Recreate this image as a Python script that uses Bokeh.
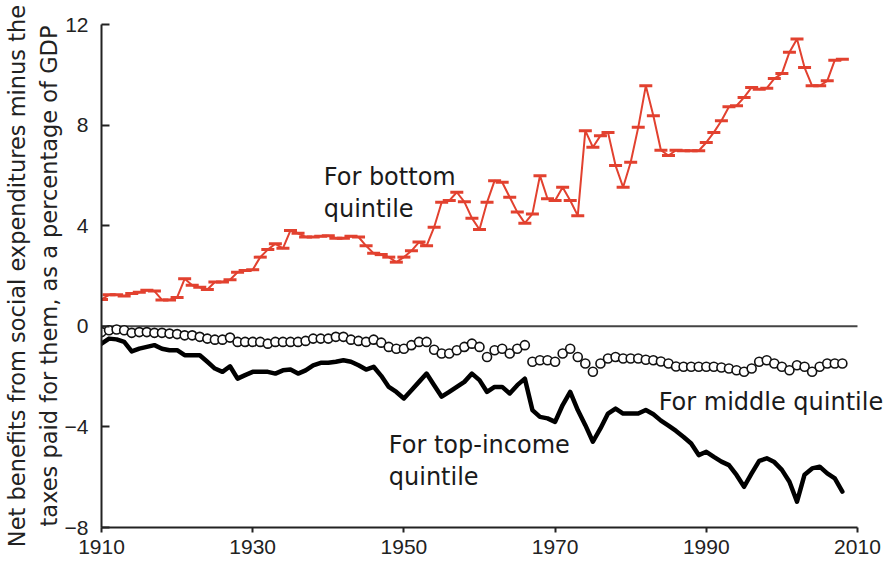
from bokeh.plotting import figure
from bokeh.models import Range1d, FixedTicker, Label, ColumnDataSource
from bokeh.embed import file_html
from bokeh.resources import INLINE

years = list(range(1910, 2009))

bottom_quintile = [
    1.07, 1.25, 1.25, 1.20, 1.30, 1.35, 1.43, 1.40, 1.05, 1.05,
    1.15, 1.89, 1.63, 1.55, 1.46, 1.76, 1.76, 1.85, 2.15, 2.22,
    2.25, 2.75, 3.05, 3.28, 3.10, 3.81, 3.70, 3.55, 3.55, 3.58,
    3.60, 3.50, 3.50, 3.58, 3.55, 3.20, 2.90, 2.85, 2.75, 2.55,
    2.75, 3.00, 3.35, 3.20, 3.94, 4.93, 5.00, 5.33, 4.95, 4.30,
    3.85, 4.93, 5.79, 5.73, 5.13, 4.54, 4.10, 4.47, 5.99, 5.07,
    5.00, 5.53, 5.00, 4.40, 7.78, 7.12, 7.58, 7.71, 6.39, 5.53,
    6.52, 7.91, 9.56, 8.37, 7.00, 6.79, 7.00, 6.98, 6.98, 6.98,
    7.31, 7.71, 8.17, 8.73, 8.77, 9.10, 9.50, 9.43, 9.47, 9.85,
    10.05, 10.90, 11.42, 10.29, 9.56, 9.56, 9.76, 10.58, 10.62,
]

middle_quintile = [
    -0.23, -0.16, -0.13, -0.16, -0.26, -0.23, -0.23, -0.26, -0.26, -0.29,
    -0.31, -0.36, -0.36, -0.42, -0.49, -0.53, -0.53, -0.45, -0.62, -0.62,
    -0.62, -0.62, -0.69, -0.62, -0.62, -0.62, -0.62, -0.58, -0.49, -0.49,
    -0.49, -0.42, -0.42, -0.53, -0.58, -0.62, -0.53, -0.65, -0.82, -0.89,
    -0.89, -0.75, -0.62, -0.62, -0.93, -1.08, -1.08, -0.95, -0.82, -0.69,
    -0.82, -1.22, -0.95, -0.89, -1.08, -0.89, -0.75, -1.41, -1.35, -1.35,
    -1.41, -1.08, -0.89, -1.22, -1.48, -1.81, -1.48, -1.28, -1.22, -1.28,
    -1.28, -1.28, -1.33, -1.35, -1.40, -1.48, -1.60, -1.61, -1.61, -1.61,
    -1.61, -1.61, -1.64, -1.68, -1.75, -1.81, -1.68, -1.41, -1.35, -1.48,
    -1.61, -1.75, -1.55, -1.61, -1.81, -1.61, -1.48, -1.48, -1.48,
]

top_quintile = [
    -0.69, -0.49, -0.52, -0.62, -1.00, -0.89, -0.82, -0.75, -0.89, -0.95,
    -0.95, -1.15, -1.15, -1.15, -1.41, -1.68, -1.81, -1.59, -2.08, -1.94,
    -1.81, -1.81, -1.81, -1.88, -1.75, -1.72, -1.88, -1.75, -1.55, -1.45,
    -1.45, -1.41, -1.35, -1.41, -1.55, -1.72, -1.61, -1.97, -2.41, -2.61,
    -2.87, -2.54, -2.21, -1.88, -2.34, -2.80, -2.61, -2.41, -2.21, -1.88,
    -2.14, -2.61, -2.41, -2.41, -2.67, -2.34, -2.08, -3.33, -3.60, -3.66,
    -3.80, -3.13, -2.61, -3.33, -3.93, -4.59, -4.06, -3.47, -3.27, -3.47,
    -3.47, -3.47, -3.33, -3.50, -3.75, -3.95, -4.16, -4.40, -4.66, -5.12,
    -4.99, -5.19, -5.38, -5.52, -5.91, -6.38, -5.85, -5.35, -5.25, -5.40,
    -5.71, -6.18, -6.97, -5.90, -5.65, -5.58, -5.85, -6.05, -6.57,
]

x_ticks = [1910, 1930, 1950, 1970, 1990, 2010]
y_ticks = [-8, -4, 0, 4, 8, 12]

y_title = "Net benefits from social expenditures minus the\ntaxes paid for them, as a percentage of GDP"

src = ColumnDataSource(dict(year=years, bottom=bottom_quintile,
                            middle=middle_quintile, top=top_quintile))

p = figure(width=891, height=563, output_backend="svg", toolbar_location=None,
           x_range=Range1d(1910, 2014.5), y_range=Range1d(-8, 12),
           min_border_left=101, min_border_right=0, min_border_top=24,
           min_border_bottom=36)
p.outline_line_color = None
p.grid.visible = False
p.background_fill_color = "white"

AX = "#222222"
for ax in (p.xaxis[0], p.yaxis[0]):
    ax.axis_line_color = AX
    ax.axis_line_width = 2
    ax.major_tick_line_color = AX
    ax.major_tick_line_width = 2
    ax.minor_tick_line_color = None
    ax.major_label_text_font = "Liberation Sans"
    ax.major_label_text_font_size = "21px"
    ax.major_label_text_color = AX

p.xaxis.ticker = FixedTicker(ticks=x_ticks)
p.xaxis.bounds = (x_ticks[0], x_ticks[-1])
p.xaxis.major_tick_in = 0
p.xaxis.major_tick_out = 5
p.xaxis.major_label_standoff = 7

p.yaxis.ticker = FixedTicker(ticks=y_ticks)
p.yaxis.major_tick_in = 8
p.yaxis.major_tick_out = 0
p.yaxis.major_label_standoff = 13
p.yaxis.axis_label = y_title
p.yaxis.axis_label_text_font = "DejaVu Sans"
p.yaxis.axis_label_text_font_size = "22.5px"
p.yaxis.axis_label_text_font_style = "normal"
p.yaxis.axis_label_text_color = AX
p.yaxis.axis_label_text_line_height = 1.2
p.yaxis.axis_label_standoff = 0

# zero reference line spanning the axis extent
p.segment(x0=[x_ticks[0]], y0=[0], x1=[x_ticks[-1]], y1=[0],
          line_color="#444444", line_width=2)

RED = "#e2412f"
p.line("year", "bottom", source=src, line_color=RED, line_width=2)
p.scatter("year", "bottom", source=src, marker="dash", size=13,
          line_color=RED, line_width=3)

p.scatter("year", "middle", source=src, marker="circle", size=9,
          fill_color="white", line_color="#111111", line_width=1.6)

p.line("year", "top", source=src, line_color="black", line_width=4.5,
       line_join="round", line_cap="round")

def note(x, y, txt):
    p.add_layout(Label(x=x, y=y, text=txt, text_font="DejaVu Sans",
                       text_font_size="24px", text_color="#1a1a1a",
                       text_baseline="alphabetic"))

note(1939.4, 5.95, "For bottom")
note(1939.4, 4.68, "quintile")
note(1983.7, -3.0, "For middle quintile")
note(1948.0, -4.72, "For top-income")
note(1948.0, -5.98, "quintile")

open("out.html", "w").write(file_html(p, INLINE))
